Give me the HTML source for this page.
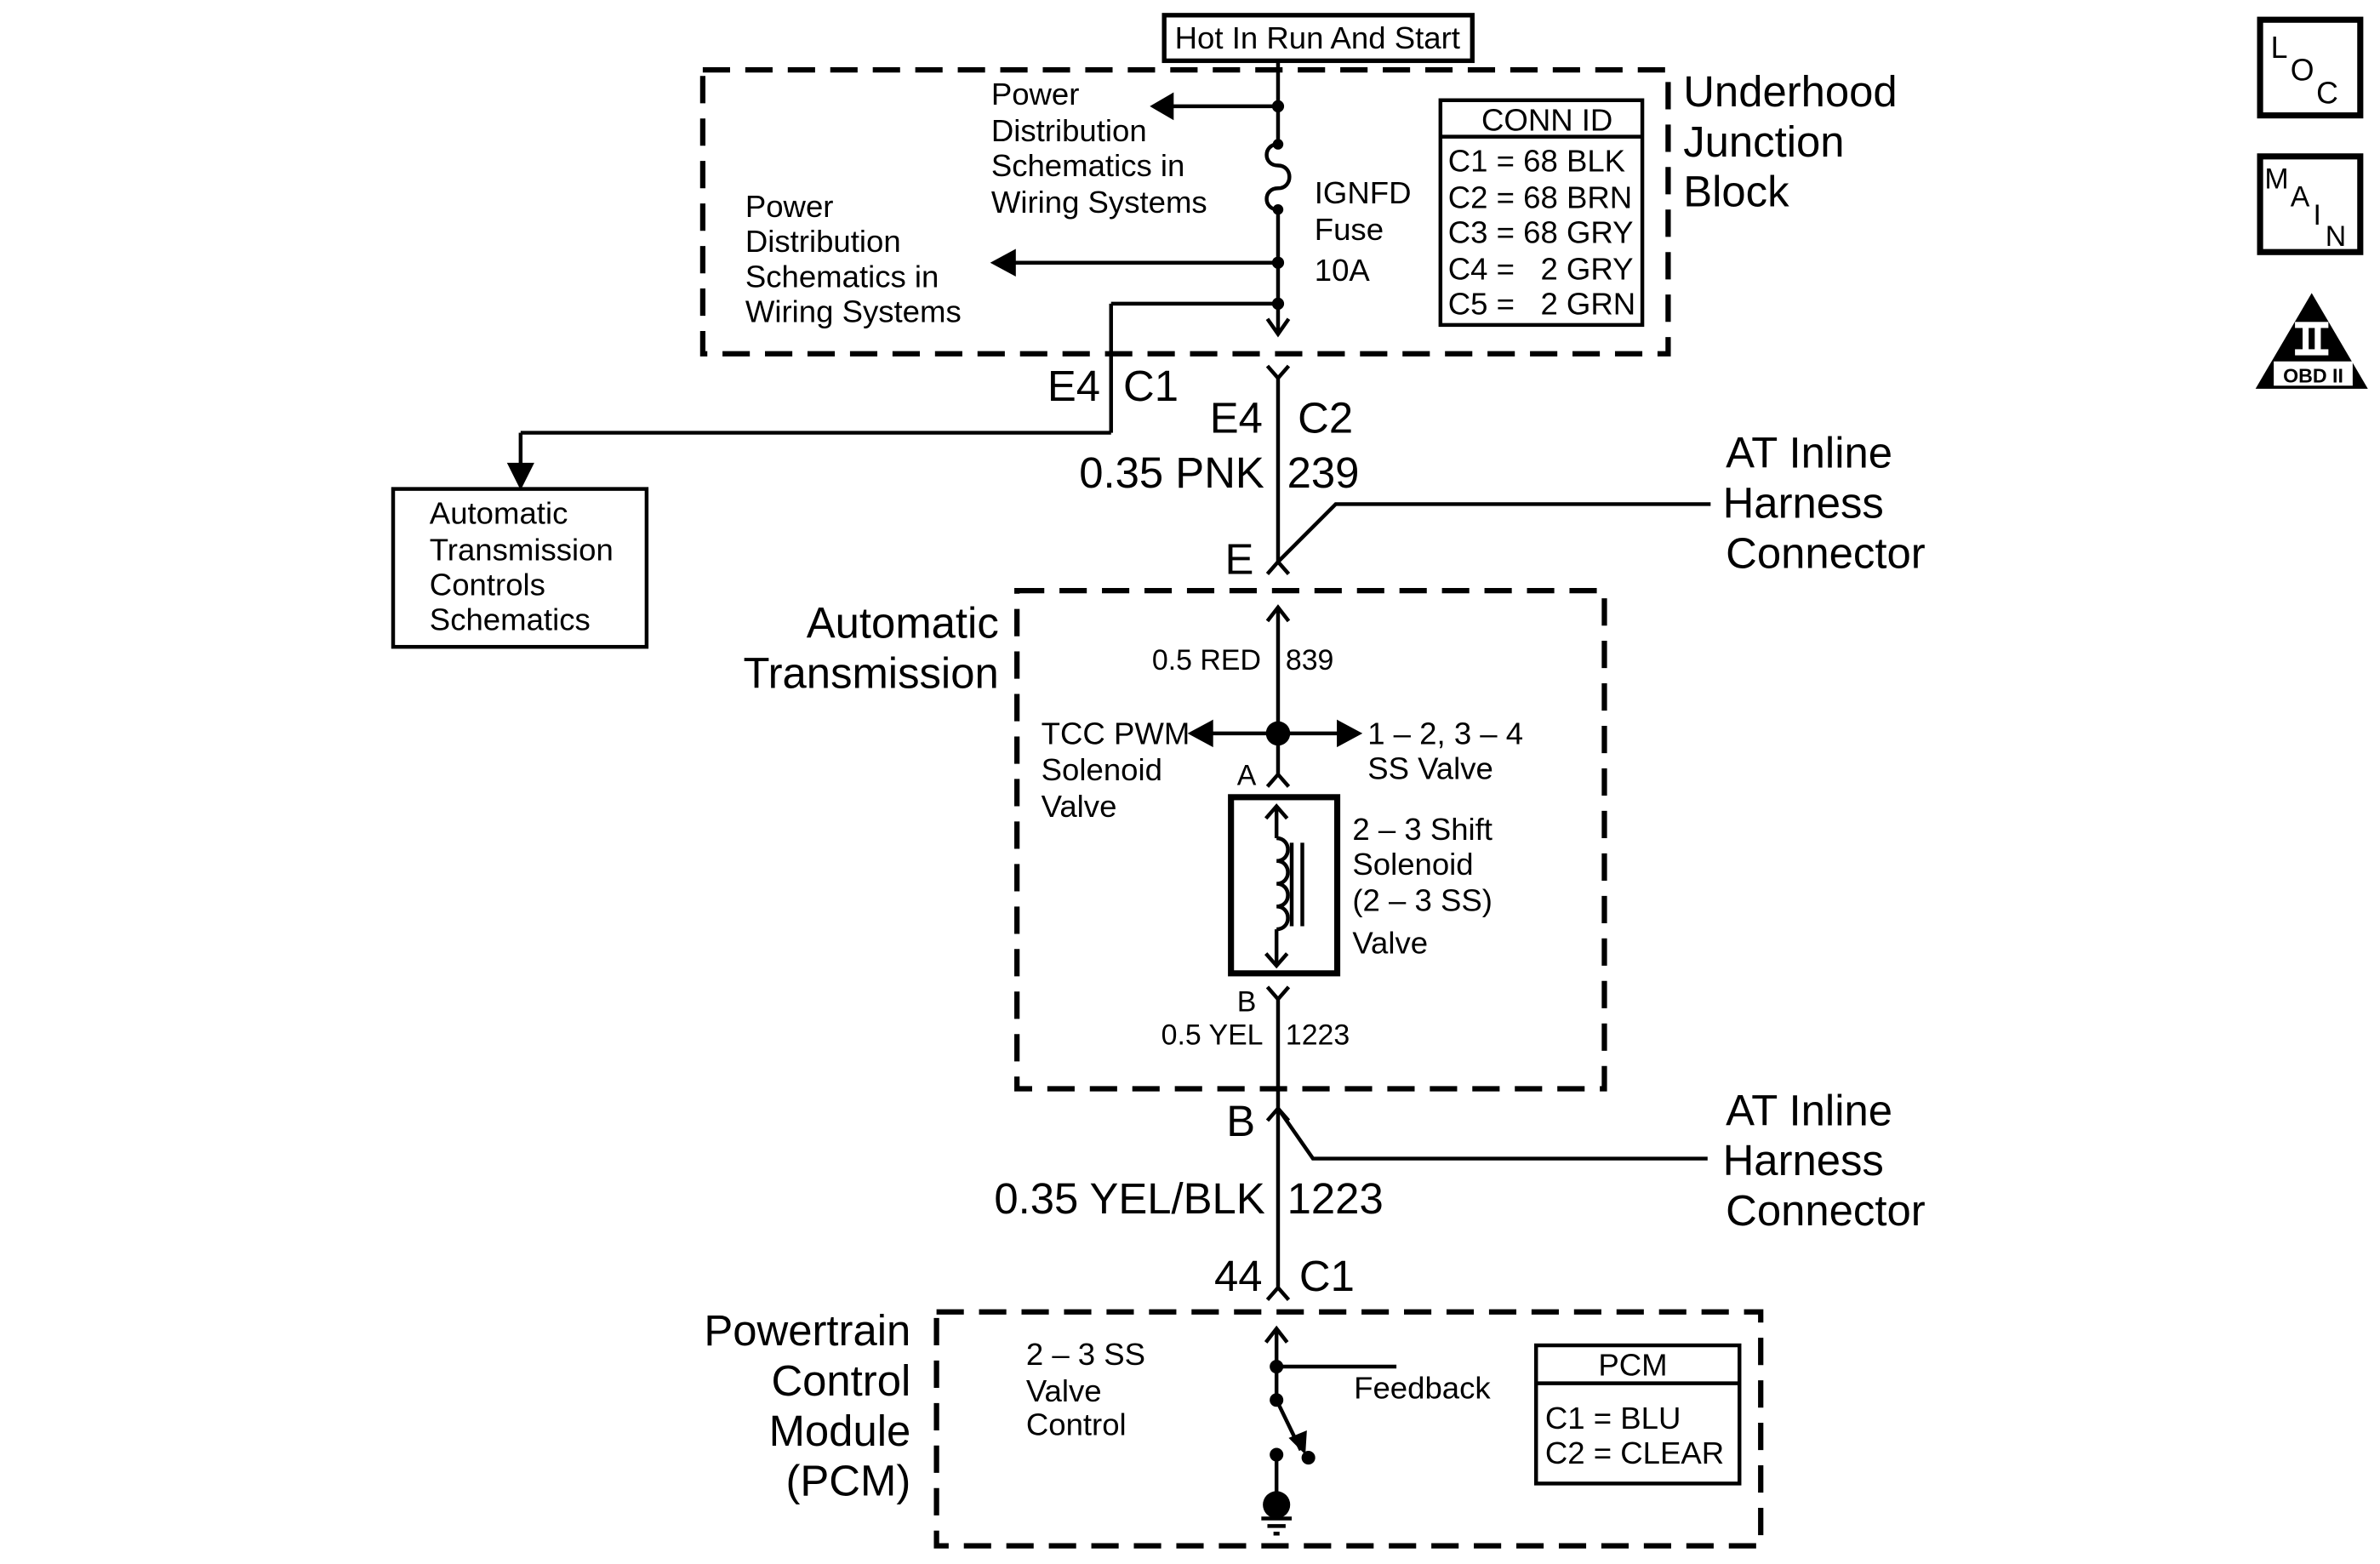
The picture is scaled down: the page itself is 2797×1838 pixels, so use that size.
<!DOCTYPE html>
<html><head><meta charset="utf-8"><style>
html,body{margin:0;padding:0;background:#fff;}
svg{display:block;}
text{font-family:"Liberation Sans",Arial,sans-serif;fill:#000;white-space:pre;}
</style></head><body>
<svg width="2797" height="1838" viewBox="0 0 1568 1030" preserveAspectRatio="none" xmlns="http://www.w3.org/2000/svg" xml:space="preserve">
<g stroke="#000" fill="none" stroke-width="2.5">
<rect x="767" y="10" width="203" height="30" stroke-width="3"/>
<rect x="463" y="46" width="636" height="187" stroke-width="3.5" stroke-dasharray="18,10"/>
<rect x="949" y="66" width="133" height="148" stroke-width="2.5"/>
<line x1="949" y1="90" x2="1082" y2="90"/>
<line x1="842" y1="40" x2="842" y2="95"/>
<path d="M842,95 c-10,0 -10,14 0,14 c10,0 10,15 0,15 c-10,0 -10,14 0,14"/>
<line x1="842" y1="138" x2="842" y2="220"/>
<path d="M835,210 L842,220 L849,210"/>
<line x1="842" y1="70" x2="770" y2="70"/>
<path d="M772,63 L760,70 L772,77 Z" fill="#000"/>
<line x1="842" y1="173" x2="668" y2="173"/>
<path d="M668,166 L655,173 L668,180 Z" fill="#000"/>
<line x1="842" y1="200" x2="732" y2="200"/>
<line x1="732" y1="200" x2="732" y2="285"/>
<line x1="732" y1="285" x2="343" y2="285"/>
<line x1="343" y1="285" x2="343" y2="308"/>
<path d="M336,306 L343,320 L350,306 Z" fill="#000"/>
<rect x="259" y="322" width="167" height="104" stroke-width="2.5"/>
<path d="M835,241 L842,249 L849,241"/>
<line x1="842" y1="249" x2="842" y2="370"/>
<path d="M835,378 L842,370 L849,378"/>
<polyline points="842,370 880,332 1127,332"/>
<rect x="670" y="389" width="387" height="328" stroke-width="3.5" stroke-dasharray="18,10"/>
<line x1="842" y1="400" x2="842" y2="510"/>
<path d="M835,409 L842,400 L849,409"/>
<line x1="842" y1="483" x2="796" y2="483"/>
<path d="M798,476 L785,483 L798,490 Z" fill="#000"/>
<line x1="842" y1="483" x2="884" y2="483"/>
<path d="M882,476 L895,483 L882,490 Z" fill="#000"/>
<path d="M835,518 L842,510 L849,518"/>
<rect x="811" y="525" width="70" height="116" stroke-width="4"/>
<line x1="841" y1="531" x2="841" y2="552"/>
<path d="M834,539 L841,531 L848,539"/>
<path d="M841,552 c10,0 10,15 0,15 c10,0 10,15 0,15 c10,0 10,15 0,15 c10,0 10,15 0,15"/>
<line x1="841" y1="612" x2="841" y2="636"/>
<path d="M834,628 L841,636 L848,628"/>
<line x1="851" y1="555" x2="851" y2="610"/>
<line x1="858" y1="555" x2="858" y2="610"/>
<path d="M835,650 L842,658 L849,650"/>
<line x1="842" y1="658" x2="842" y2="730"/>
<path d="M835,738 L842,730 L849,738"/>
<polyline points="842,730 865,763 1125,763"/>
<line x1="842" y1="730" x2="842" y2="848"/>
<path d="M835,856 L842,848 L849,856"/>
<rect x="617" y="864" width="543" height="154" stroke-width="3.5" stroke-dasharray="18,10"/>
<line x1="841" y1="875" x2="841" y2="922"/>
<path d="M834,884 L841,875 L848,884"/>
<line x1="841" y1="900" x2="920" y2="900"/>
<line x1="841" y1="922" x2="857" y2="955"/>
<path d="M849,947 L860,958 L861,942 Z" fill="#000" stroke="none"/>
<line x1="841" y1="958" x2="841" y2="988"/>
<line x1="831" y1="1000" x2="851" y2="1000"/>
<line x1="835" y1="1005" x2="847" y2="1005"/>
<line x1="839" y1="1010" x2="843" y2="1010"/>
<rect x="1012" y="886" width="134" height="91" stroke-width="2.5"/>
<line x1="1012" y1="911" x2="1146" y2="911"/>
<rect x="1489" y="13" width="66" height="63" stroke-width="4"/>
<rect x="1489" y="103" width="66" height="63" stroke-width="4"/>
</g>
<g fill="#000">
<circle cx="842" cy="70" r="4"/><circle cx="842" cy="95" r="3.5"/><circle cx="842" cy="138" r="3.5"/>
<circle cx="842" cy="173" r="4"/><circle cx="842" cy="200" r="4"/>
<circle cx="842" cy="483" r="8"/>
<circle cx="841" cy="900" r="4.5"/><circle cx="841" cy="922" r="4.5"/>
<circle cx="862" cy="960" r="4.5"/><circle cx="841" cy="958" r="4.5"/>
<circle cx="841" cy="991" r="9"/>
<path d="M1523,193 L1560,256 L1486,256 Z"/>
<rect x="1512" y="212" width="22" height="4" fill="#fff"/>
<rect x="1512" y="230" width="22" height="4" fill="#fff"/>
<rect x="1517" y="214" width="4" height="18" fill="#fff"/>
<rect x="1525" y="214" width="4" height="18" fill="#fff"/>
<rect x="1498" y="238" width="52" height="16" fill="#fff"/>
</g>
<text x="1524" y="252" font-size="13" font-weight="bold" text-anchor="middle">OBD II</text>
<text x="1496" y="38" font-size="20">L</text><text x="1509" y="53" font-size="20">O</text><text x="1526" y="68" font-size="20">C</text>
<text x="1492" y="124" font-size="19">M</text><text x="1509" y="136" font-size="19">A</text><text x="1524" y="148" font-size="19">I</text><text x="1532" y="162" font-size="19">N</text>

<g font-size="20.5">
<text x="774" y="32">Hot In Run And Start</text>
<text x="653" y="69">Power</text><text x="653" y="93">Distribution</text><text x="653" y="116">Schematics in</text><text x="653" y="140">Wiring Systems</text>
<text x="491" y="143">Power</text><text x="491" y="166">Distribution</text><text x="491" y="189">Schematics in</text><text x="491" y="212">Wiring Systems</text>
<text x="866" y="134">IGNFD</text><text x="866" y="158">Fuse</text><text x="866" y="185">10A</text>
<text x="976" y="86">CONN ID</text>
<text x="954" y="113">C1 = 68 BLK</text><text x="954" y="137">C2 = 68 BRN</text><text x="954" y="160">C3 = 68 GRY</text>
<text x="954" y="184">C4 =   2 GRY</text><text x="954" y="207">C5 =   2 GRN</text>
<text x="283" y="345">Automatic</text><text x="283" y="369">Transmission</text><text x="283" y="392">Controls</text><text x="283" y="415">Schematics</text>
<text x="686" y="490">TCC PWM</text><text x="686" y="514">Solenoid</text><text x="686" y="538">Valve</text>
<text x="901" y="490">1 – 2, 3 – 4</text><text x="901" y="513">SS Valve</text>
<text x="891" y="553">2 – 3 Shift</text><text x="891" y="576">Solenoid</text><text x="891" y="600">(2 – 3 SS)</text><text x="891" y="628">Valve</text>
<text x="676" y="899">2 – 3 SS</text><text x="676" y="923">Valve</text><text x="676" y="945">Control</text>
<text x="892" y="921">Feedback</text>
<text x="1053" y="906">PCM</text>
<text x="1018" y="941">C1 = BLU</text><text x="1018" y="964">C2 = CLEAR</text>
</g>
<g font-size="19">
<text x="759" y="441">0.5 RED</text><text x="847" y="441">839</text>
<text x="765" y="688">0.5 YEL</text><text x="847" y="688">1223</text>
<text x="815" y="517">A</text><text x="815" y="666">B</text>
</g>
<g stroke="#000" stroke-width="1.5"><line x1="842" y1="424" x2="842" y2="444"/><line x1="842" y1="670" x2="842" y2="690"/></g>
<g font-size="28.5">
<text x="1109" y="70">Underhood</text><text x="1109" y="103">Junction</text><text x="1109" y="136">Block</text>
<text x="690" y="264">E4</text><text x="740" y="264">C1</text>
<text x="797" y="285">E4</text><text x="855" y="285">C2</text>
<text x="711" y="321">0.35 PNK</text><text x="848" y="321">239</text>
<text x="1137" y="308">AT Inline</text><text x="1135" y="341">Harness</text><text x="1137" y="374">Connector</text>
<text x="807" y="378">E</text>
<text x="658" y="420" text-anchor="end">Automatic</text><text x="658" y="453" text-anchor="end">Transmission</text>
<text x="808" y="748">B</text>
<text x="1137" y="741">AT Inline</text><text x="1135" y="774">Harness</text><text x="1137" y="807">Connector</text>
<text x="655" y="799">0.35 YEL/BLK</text><text x="848" y="799">1223</text>
<text x="800" y="850">44</text><text x="856" y="850">C1</text>
<text x="600" y="886" text-anchor="end">Powertrain</text><text x="600" y="919" text-anchor="end">Control</text><text x="600" y="952" text-anchor="end">Module</text><text x="600" y="985" text-anchor="end">(PCM)</text>
</g>
<g stroke="#000" stroke-width="2"><line x1="842" y1="298" x2="842" y2="325"/><line x1="842" y1="776" x2="842" y2="803"/></g>
</svg>
</body></html>
